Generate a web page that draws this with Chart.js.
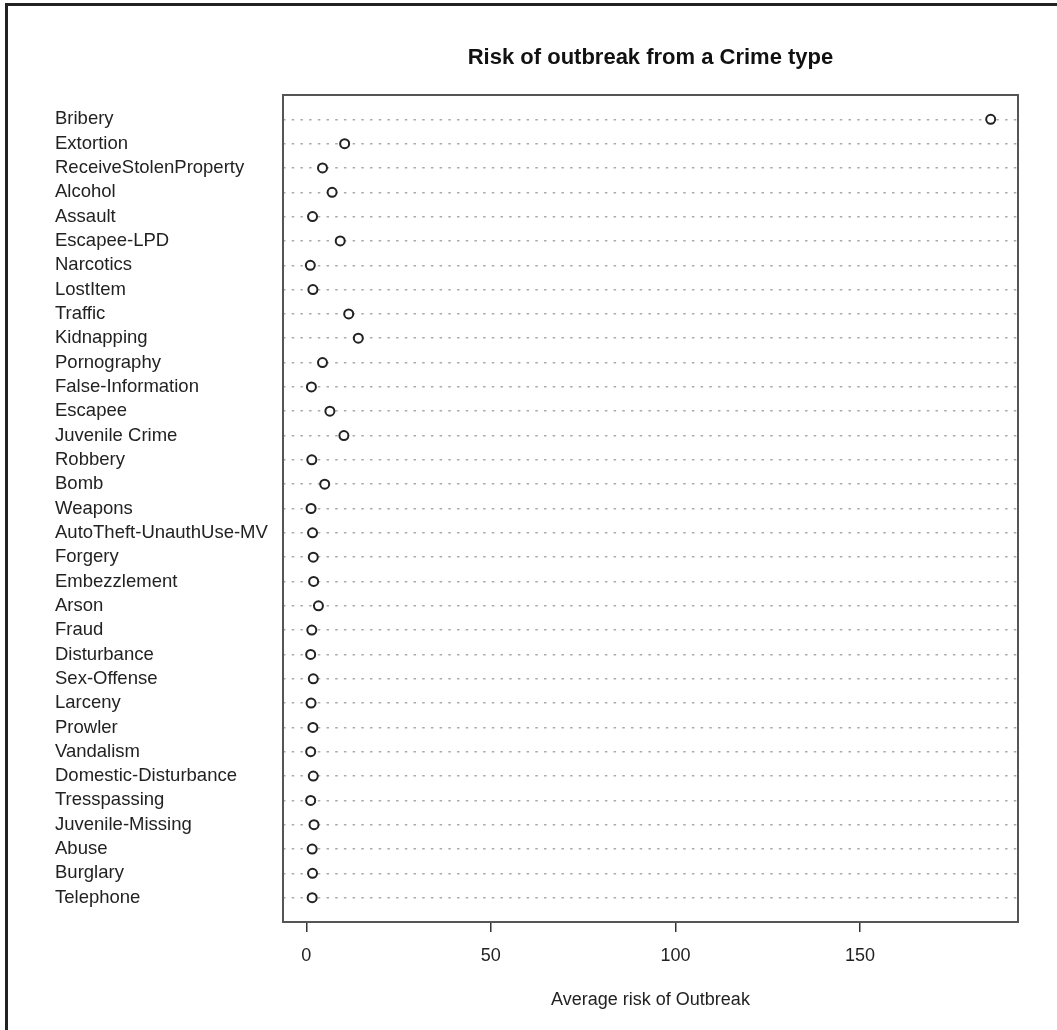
<!DOCTYPE html>
<html>
<head>
<meta charset="utf-8">
<title>Risk of outbreak from a Crime type</title>
<script src="https://cdn.jsdelivr.net/npm/chart.js@4/dist/chart.umd.min.js"></script>
<style>
    body { margin: 0; background: #fff; }
    #wrap { position: relative; width: 1057px; height: 1030px; }
</style>
</head>
<body>
<div id="wrap"><canvas id="dots"></canvas></div>
<script>
// crime types, top to bottom as in the dotchart
const crimeTypes = ["Bribery", "Extortion", "ReceiveStolenProperty", "Alcohol", "Assault", "Escapee-LPD",
    "Narcotics", "LostItem", "Traffic", "Kidnapping", "Pornography", "False-Information", "Escapee",
    "Juvenile Crime", "Robbery", "Bomb", "Weapons", "AutoTheft-UnauthUse-MV", "Forgery", "Embezzlement",
    "Arson", "Fraud", "Disturbance", "Sex-Offense", "Larceny", "Prowler", "Vandalism",
    "Domestic-Disturbance", "Tresspassing", "Juvenile-Missing", "Abuse", "Burglary", "Telephone"];

// average risk of outbreak
const avgRisk = [185.4, 10.4, 4.4, 7.0, 1.7, 9.2,
    1.1, 1.8, 11.5, 14.1, 4.4, 1.4, 6.4,
    10.2, 1.5, 5.0, 1.3, 1.7, 1.9, 2.0,
    3.3, 1.5, 1.2, 1.9, 1.3, 1.8, 1.2,
    1.9, 1.2, 2.1, 1.6, 1.7, 1.6];

const xTicks = [0, 50, 100, 150];

const mainTitle = "Risk of outbreak from a Crime type";
const xTitle = "Average risk of Outbreak";

const font = "'Liberation Sans', Arial, sans-serif";

// title + the frame lines of the screenshot + the box round the plot
const framePlugin = {
    id: "frame",
    afterDraw(chart) {
        const ctx = chart.ctx;
        const a = chart.chartArea;
        ctx.save();
        ctx.fillStyle = "#222";
        ctx.fillRect(5, 3, 1052, 3);
        ctx.fillRect(5, 3, 3, 1027);

        ctx.strokeStyle = "#555";
        ctx.lineWidth = 2;
        ctx.strokeRect(a.left, a.top, a.right - a.left, a.bottom - a.top);

        ctx.fillStyle = "#111";
        ctx.font = "bold 22px " + font;
        ctx.textAlign = "center";
        ctx.textBaseline = "middle";
        ctx.fillText(mainTitle, (a.left + a.right) / 2, 58);
        ctx.restore();
    }
};

new Chart("dots", {
    type: "scatter",
    data: {
        datasets: [{
            data: avgRisk.map((v, i) => ({ x: v, y: i })),
            pointRadius: 4.5,
            pointHoverRadius: 4.5,
            pointBorderWidth: 2,
            pointBackgroundColor: "#fff",
            pointBorderColor: "#222",
            showLine: false
        }]
    },
    options: {
        responsive: true,
        maintainAspectRatio: false,
        animation: false,
        layout: { padding: { left: 55, right: 39, top: 95, bottom: 0 } },
        plugins: {
            legend: { display: false },
            tooltip: { enabled: false }
        },
        scales: {
            x: {
                type: "linear",
                min: -6.3,
                max: 192.8,
                afterBuildTicks: (axis) => { axis.ticks = xTicks.map(v => ({ value: v })); },
                afterFit: (axis) => { axis.height = 108; },
                grid: { drawOnChartArea: false, drawTicks: true, tickLength: 10, color: "#333", lineWidth: 1.5 },
                border: { display: false },
                ticks: { color: "#222", padding: 13, font: { family: font, size: 18 } },
                title: {
                    display: true,
                    text: xTitle,
                    color: "#222",
                    font: { family: font, size: 18 },
                    padding: { top: 0, bottom: 19 }
                }
            },
            y: {
                type: "linear",
                reverse: true,
                min: -1,
                max: crimeTypes.length,
                afterBuildTicks: (axis) => { axis.ticks = crimeTypes.map((c, i) => ({ value: i })); },
                afterFit: (axis) => { axis.width = 228; },
                grid: { color: "#aaa", lineWidth: 1.5, drawTicks: false },
                border: { display: false, dash: [2.5, 6.2] },
                ticks: {
                    autoSkip: false,
                    crossAlign: "far",
                    padding: 0,
                    color: "#222",
                    font: { family: font, size: 18.5 },
                    callback: (v) => crimeTypes[v]
                }
            }
        }
    },
    plugins: [framePlugin]
});
</script>
</body>
</html>
